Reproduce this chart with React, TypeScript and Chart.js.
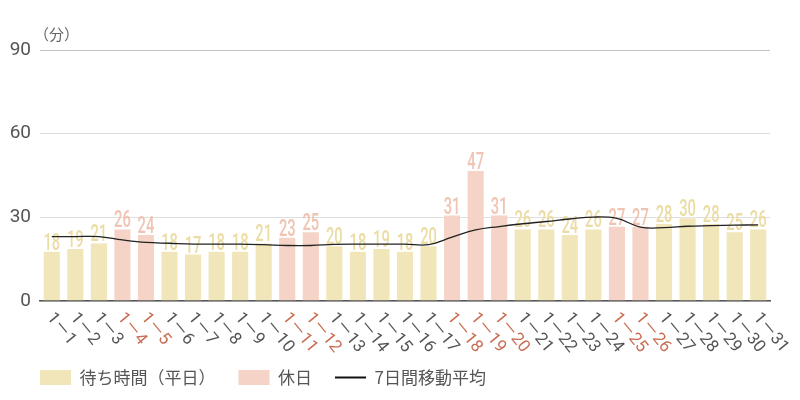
import React, { useEffect, useRef } from 'react';
import Chart from 'chart.js/auto';

const days: string[] = [
  '1－1', '1－2', '1－3', '1－4', '1－5', '1－6', '1－7', '1－8', '1－9', '1－10',
  '1－11', '1－12', '1－13', '1－14', '1－15', '1－16', '1－17', '1－18', '1－19', '1－20',
  '1－21', '1－22', '1－23', '1－24', '1－25', '1－26', '1－27', '1－28', '1－29', '1－30', '1－31',
];
const waitTimes: number[] = [
  18, 19, 21, 26, 24, 18, 17, 18, 18, 21, 23, 25, 20, 18, 19, 18,
  20, 31, 47, 31, 26, 26, 24, 26, 27, 27, 28, 30, 28, 25, 26,
];
const holidayIdx: number[] = [3, 4, 10, 11, 17, 18, 19, 24, 25];
const movingAvg: number[] = [
  23.1, 23.1, 23.1, 21.9, 21.0, 20.7, 20.4, 20.4, 20.4, 20.2, 19.9, 19.9, 20.3, 20.4, 20.4, 20.4,
  20.2, 22.9, 25.5, 26.7, 27.7, 28.5, 29.4, 30.1, 29.6, 26.5, 26.3, 26.8, 27.0, 27.2, 27.3,
];
const yTicks: number[] = [0, 30, 60, 90];
const seriesNames: string[] = ['待ち時間（平日）', '休日', '7日間移動平均'];

const weekdayColor = '#f1e6b9';
const holidayColor = '#f5d3c7';
const weekdayLabelColor = '#ebdca4';
const holidayLabelColor = '#f0c3b2';
const holidayTextColor = '#c96d52';
const textColor = '#555';

const weekdayData = waitTimes.map((v, i) => (holidayIdx.includes(i) ? null : v));
const holidayData = waitTimes.map((v, i) => (holidayIdx.includes(i) ? v : null));

// value labels, rotated day labels, unit text
const extras = {
  id: 'extras',
  afterLayout(chart: any) {
    // push the legend right so it lines up with the plot
    if (chart.legend) {
      chart.legend.left += 17;
      chart.legend.right += 17;
    }
  },
  beforeDatasetsDraw(chart: any) {
    const ctx = chart.ctx;
    [0, 1].forEach((di) => {
      const meta = chart.getDatasetMeta(di);
      const ds = chart.data.datasets[di];
      meta.data.forEach((el: any, i: number) => {
        const v = ds.data[i];
        if (v == null) return;
        ctx.save();
        ctx.translate(el.x, el.y - 1);
        ctx.scale(0.64, 1);
        ctx.font = '500 23px Roboto';
        ctx.fillStyle = di === 0 ? weekdayLabelColor : holidayLabelColor;
        ctx.textAlign = 'center';
        ctx.textBaseline = 'alphabetic';
        ctx.fillText(String(v), 0, 0);
        ctx.restore();
      });
    });
  },
  afterDraw(chart: any) {
    const ctx = chart.ctx;
    const x = chart.scales.x;
    const area = chart.chartArea;
    chart.data.labels.forEach((lab: string, i: number) => {
      const px = x.getPixelForValue(i);
      ctx.save();
      ctx.translate(px - 2, area.bottom + 14);
      ctx.rotate((51 * Math.PI) / 180);
      ctx.font = '17px Roboto, "Noto Sans CJK JP"';
      ctx.fillStyle = holidayIdx.includes(i) ? holidayTextColor : textColor;
      ctx.textAlign = 'left';
      ctx.textBaseline = 'middle';
      ctx.fillText(lab, 0, 0);
      ctx.restore();
    });
    ctx.save();
    ctx.font = '15px "Noto Sans CJK JP"';
    ctx.fillStyle = '#666';
    ctx.textAlign = 'left';
    ctx.textBaseline = 'middle';
    ctx.fillText('（分）', area.left - 6, area.top - 16);
    ctx.restore();
  },
};

const App: React.FC = () => {
  const chartRef = useRef<HTMLCanvasElement>(null);
  const chartInstance = useRef<Chart | null>(null);

  useEffect(() => {
    document.body.style.margin = '0';
    if (chartRef.current) {
      if (chartInstance.current) {
        chartInstance.current.destroy();
      }
      const ctx = chartRef.current.getContext('2d');
      if (ctx) {
        chartInstance.current = new Chart(ctx, {
          type: 'bar',
          data: {
            labels: days,
            datasets: [
              {
                type: 'bar',
                label: seriesNames[0],
                data: weekdayData,
                backgroundColor: weekdayColor,
                borderColor: 'rgba(255,255,255,0.35)',
                borderWidth: 1,
                grouped: false,
                barPercentage: 0.77,
                categoryPercentage: 1,
                order: 2,
              },
              {
                type: 'bar',
                label: seriesNames[1],
                data: holidayData,
                backgroundColor: holidayColor,
                borderColor: 'rgba(255,255,255,0.35)',
                borderWidth: 1,
                grouped: false,
                barPercentage: 0.77,
                categoryPercentage: 1,
                order: 1,
              },
              {
                type: 'line',
                label: seriesNames[2],
                data: movingAvg,
                borderColor: '#222',
                borderWidth: 1.3,
                pointRadius: 0,
                tension: 0.4,
                fill: false,
                order: 0,
              },
            ],
          } as any,
          options: {
            animation: false,
            responsive: true,
            maintainAspectRatio: false,
            layout: {
              padding: { top: 50, right: 30, left: 0, bottom: 4 },
            },
            plugins: {
              tooltip: { enabled: false },
              legend: {
                position: 'bottom',
                align: 'start',
                labels: {
                  usePointStyle: true,
                  pointStyleWidth: 31,
                  boxHeight: 15,
                  padding: 23,
                  color: textColor,
                  font: { family: '"Noto Sans CJK JP"', size: 17 },
                  generateLabels: () => [
                    {
                      text: seriesNames[0],
                      fillStyle: weekdayColor,
                      strokeStyle: weekdayColor,
                      lineWidth: 0,
                      pointStyle: 'rect',
                      fontColor: textColor,
                      datasetIndex: 0,
                    },
                    {
                      text: seriesNames[1],
                      fillStyle: holidayColor,
                      strokeStyle: holidayColor,
                      lineWidth: 0,
                      pointStyle: 'rect',
                      fontColor: textColor,
                      datasetIndex: 1,
                    },
                    {
                      text: seriesNames[2],
                      fillStyle: '#111',
                      strokeStyle: '#111',
                      lineWidth: 2,
                      pointStyle: 'line',
                      fontColor: textColor,
                      datasetIndex: 2,
                    },
                  ],
                },
              },
            },
            scales: {
              x: {
                grid: { display: false },
                border: { color: '#555', width: 1.5 },
                ticks: { display: false },
                afterFit: (s: any) => {
                  s.height = 45;
                },
              },
              y: {
                min: 0,
                max: 90,
                afterBuildTicks: (s: any) => {
                  s.ticks = yTicks.map((v) => ({ value: v }));
                },
                grid: {
                  drawTicks: false,
                  color: (c: any) => (c.tick && c.tick.value === 90 ? '#c4c4c4' : '#dedede'),
                },
                border: { display: false },
                ticks: {
                  padding: 9,
                  color: textColor,
                  font: { family: 'Roboto', size: 19 },
                },
                afterFit: (s: any) => {
                  s.width = 40;
                },
              },
            },
          },
          plugins: [extras],
        });
      }
    }

    return () => {
      if (chartInstance.current) {
        chartInstance.current.destroy();
        chartInstance.current = null;
      }
    };
  }, []);

  return (
    <div style={{ width: '800px', height: '400px', position: 'relative' }}>
      <canvas ref={chartRef}></canvas>
    </div>
  );
};

export default App;
